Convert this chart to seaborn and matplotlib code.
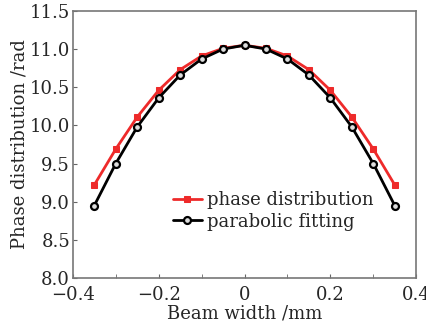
import numpy as np
import pandas as pd
import matplotlib
matplotlib.use('Agg')
import matplotlib.pyplot as plt
import seaborn as sns
from matplotlib.ticker import MultipleLocator

# beam width positions (mm)
beam_width = [-0.35, -0.30, -0.25, -0.20, -0.15, -0.10, -0.05, 0.00,
              0.05, 0.10, 0.15, 0.20, 0.25, 0.30, 0.35]
# measured phase (rad)
phase_distribution = [9.22, 9.69, 10.11, 10.46, 10.73, 10.91, 11.01, 11.05,
                      11.01, 10.91, 10.73, 10.46, 10.11, 9.69, 9.22]
# parabolic fit (rad)
parabolic_fitting = [8.95, 9.50, 9.98, 10.36, 10.66, 10.87, 11.00, 11.05,
                     11.00, 10.87, 10.66, 10.36, 9.98, 9.50, 8.95]

df = pd.DataFrame({'x': beam_width,
                   'phase': phase_distribution,
                   'fit': parabolic_fitting})

sns.set_style('white')
plt.rcParams['font.family'] = ['DejaVu Serif']

fig = plt.figure(figsize=(4.26, 3.31), dpi=100)
ax = fig.add_axes([0.171, 0.160, 0.806, 0.807])

sns.lineplot(data=df, x='x', y='phase', ax=ax, color='#ee2a2a', lw=2,
             marker='s', markersize=5, markeredgecolor='#ee2a2a',
             label='phase distribution')
sns.lineplot(data=df, x='x', y='fit', ax=ax, color='black', lw=2,
             marker='o', markersize=5, markerfacecolor='#dddddd',
             markeredgecolor='black', markeredgewidth=1.6,
             label='parabolic fitting')

ax.set_xlim(-0.4, 0.4)
ax.set_ylim(8.0, 11.5)
ax.xaxis.set_minor_locator(MultipleLocator(0.1))
ax.tick_params(axis='both', which='both', direction='in', length=3,
               color='#666666', labelsize=13, top=False, right=False,
               bottom=True, left=True, pad=2)
ax.tick_params(axis='x', which='major', pad=6)
ax.set_xticks([-0.4, -0.2, 0, 0.2, 0.4])
ax.set_xticklabels(['\u22120.4', '\u22120.2', '0', '0.2', '0.4'])
ax.set_yticks([8.0, 8.5, 9.0, 9.5, 10.0, 10.5, 11.0, 11.5])
ax.set_yticklabels(['8.0', '8.5', '9.0', '9.5', '10.0', '10.5', '11.0', '11.5'])

for s in ax.spines.values():
    s.set_color('#777777')
    s.set_linewidth(1.2)

ax.set_xlabel('Beam width /mm', fontsize=13, labelpad=0)
ax.set_ylabel('Phase distribution /rad', fontsize=13, labelpad=1)

ax.legend(loc='lower left', bbox_to_anchor=(0.27, 0.15), frameon=False,
          fontsize=13, handlelength=1.6, handletextpad=0.3,
          labelspacing=0.2, borderaxespad=0)

fig.savefig('out.png', dpi=100)
